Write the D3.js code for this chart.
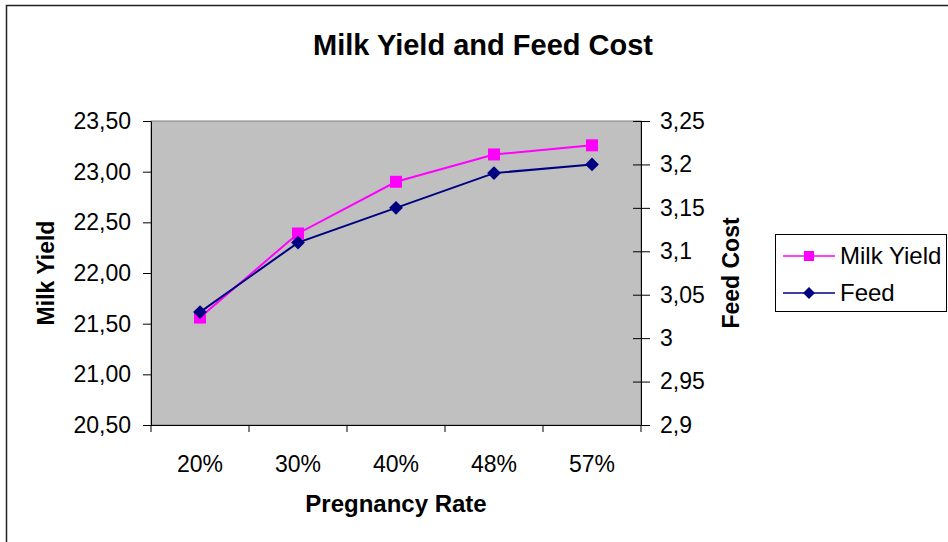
<!DOCTYPE html>
<html>
<head>
<meta charset="utf-8">
<script src="https://cdn.jsdelivr.net/npm/d3@7"></script>
<style>
  html, body { margin: 0; padding: 0; background: #fff; }
  svg { display: block; font-family: "Liberation Sans", Arial, sans-serif; }
</style>
</head>
<body>
<svg id="chart" width="948" height="542"></svg>
<script>
// Pregnancy rate categories and the two measured series
const categories = ["20%", "30%", "40%", "48%", "57%"];
const milkYield = [21.56, 22.39, 22.90, 23.17, 23.26];
const feedCost = [3.03, 3.11, 3.15, 3.19, 3.20];

// Axis tick values and their labels (decimal comma)
const leftTicks = [20.5, 21.0, 21.5, 22.0, 22.5, 23.0, 23.5];
const leftTickLabels = ["20,50", "21,00", "21,50", "22,00", "22,50", "23,00", "23,50"];
const rightTicks = [2.9, 2.95, 3.0, 3.05, 3.1, 3.15, 3.2, 3.25];
const rightTickLabels = ["2,9", "2,95", "3", "3,05", "3,1", "3,15", "3,2", "3,25"];

const svg = d3.select("#chart");
const plot = { left: 151, right: 641, top: 121, bottom: 425 };

const x = d3.scaleBand().domain(categories).range([plot.left, plot.right]).padding(0);
const yL = d3.scaleLinear().domain([20.5, 23.5]).range([plot.bottom, plot.top]);
const yR = d3.scaleLinear().domain([2.9, 3.25]).range([plot.bottom, plot.top]);

const tickFont = 23;

// Outer chart frame (left and top edges visible)
svg.append("path")
  .attr("d", `M6.5,542 L6.5,5.5 L948,5.5`)
  .attr("fill", "none").attr("stroke", "#222").attr("stroke-width", 1.5);

// Title
svg.append("text")
  .attr("x", 483).attr("y", 55)
  .attr("text-anchor", "middle")
  .attr("font-weight", "bold").attr("font-size", 29)
  .text("Milk Yield and Feed Cost");

// Plot area
svg.append("rect")
  .attr("x", plot.left).attr("y", plot.top)
  .attr("width", plot.right - plot.left).attr("height", plot.bottom - plot.top)
  .attr("fill", "#c0c0c0").attr("stroke", "#808080").attr("stroke-width", 1);

// Left axis
const leftAxis = d3.axisLeft(yL).tickValues(leftTicks)
  .tickFormat((d, i) => leftTickLabels[i]).tickSizeInner(8).tickSizeOuter(0).tickPadding(12);
const gL = svg.append("g").attr("transform", `translate(${plot.left},0)`).call(leftAxis);
gL.selectAll("text").attr("font-size", tickFont).attr("fill", "#000").attr("font-family", "Liberation Sans, Arial, sans-serif");
gL.select(".domain").attr("stroke", "#000");

// Right axis (ticks cross the axis line)
const rightAxis = d3.axisRight(yR).tickValues(rightTicks)
  .tickFormat((d, i) => rightTickLabels[i]).tickSizeInner(9).tickSizeOuter(0).tickPadding(10);
const gR = svg.append("g").attr("transform", `translate(${plot.right},0)`).call(rightAxis);
gR.selectAll(".tick line").attr("x1", -8);
gR.selectAll("text").attr("font-size", tickFont).attr("fill", "#000").attr("font-family", "Liberation Sans, Arial, sans-serif");
gR.select(".domain").attr("stroke", "#000");

// Bottom axis: ticks at category boundaries, labels at category centers
const gB = svg.append("g").attr("transform", `translate(0,${plot.bottom})`);
gB.append("line").attr("x1", plot.left).attr("x2", plot.right).attr("y1", 0.5).attr("y2", 0.5).attr("stroke", "#000");
const boundaries = categories.map(c => x(c)).concat([x(categories[categories.length - 1]) + x.bandwidth()]);
gB.selectAll("line.tk").data(boundaries).join("line").attr("class", "tk")
  .attr("x1", d => d).attr("x2", d => d).attr("y1", 0).attr("y2", 7).attr("stroke", "#000");
gB.selectAll("text").data(categories).join("text")
  .attr("x", d => x(d) + x.bandwidth() / 2).attr("y", 47)
  .attr("text-anchor", "middle").attr("font-size", tickFont).text(d => d);

// Axis titles
svg.append("text")
  .attr("x", 396).attr("y", 512).attr("text-anchor", "middle")
  .attr("font-weight", "bold").attr("font-size", 24).text("Pregnancy Rate");
svg.append("text")
  .attr("transform", `translate(54,273) rotate(-90)`).attr("text-anchor", "middle")
  .attr("font-weight", "bold").attr("font-size", 23).text("Milk Yield");
svg.append("text")
  .attr("transform", `translate(739,273) rotate(-90)`).attr("text-anchor", "middle")
  .attr("font-weight", "bold").attr("font-size", 23).text("Feed Cost");

const cx = d => x(d) + x.bandwidth() / 2;
const milkColor = "#ff00ff";
const feedColor = "#000080";

// Milk yield series
svg.append("path")
  .datum(milkYield)
  .attr("fill", "none").attr("stroke", milkColor).attr("stroke-width", 2)
  .attr("d", d3.line().x((d, i) => cx(categories[i])).y(d => yL(d)));
svg.selectAll("rect.milk").data(milkYield).join("rect").attr("class", "milk")
  .attr("x", (d, i) => cx(categories[i]) - 6).attr("y", d => yL(d) - 6)
  .attr("width", 12).attr("height", 12).attr("fill", milkColor);

// Feed cost series
svg.append("path")
  .datum(feedCost)
  .attr("fill", "none").attr("stroke", feedColor).attr("stroke-width", 2)
  .attr("d", d3.line().x((d, i) => cx(categories[i])).y(d => yR(d)));
svg.selectAll("path.feed").data(feedCost).join("path").attr("class", "feed")
  .attr("transform", (d, i) => `translate(${cx(categories[i])},${yR(d)}) rotate(45)`)
  .attr("d", d3.symbol().type(d3.symbolSquare).size(95)).attr("fill", feedColor);

// Legend
const lg = svg.append("g");
lg.append("rect").attr("x", 775.5).attr("y", 234.5).attr("width", 171).attr("height", 77)
  .attr("fill", "#fff").attr("stroke", "#000").attr("stroke-width", 1);
const legendItems = [
  { name: "Milk Yield", color: milkColor, marker: "square", y: 256 },
  { name: "Feed", color: feedColor, marker: "diamond", y: 293 }
];
legendItems.forEach(it => {
  lg.append("line").attr("x1", 783).attr("x2", 835).attr("y1", it.y).attr("y2", it.y)
    .attr("stroke", it.color).attr("stroke-width", 1.5);
  if (it.marker === "square") {
    lg.append("rect").attr("x", 804).attr("y", it.y - 5).attr("width", 10).attr("height", 10).attr("fill", it.color);
  } else {
    lg.append("path").attr("transform", `translate(809,${it.y}) rotate(45)`)
      .attr("d", d3.symbol().type(d3.symbolSquare).size(70)).attr("fill", it.color);
  }
  lg.append("text").attr("x", 840).attr("y", it.y + 8).attr("font-size", 24).text(it.name);
});
</script>
</body>
</html>
